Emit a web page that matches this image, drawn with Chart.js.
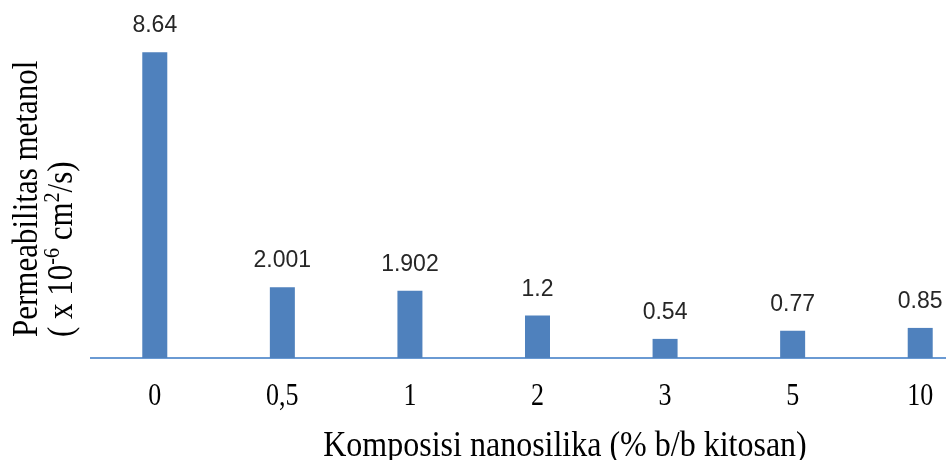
<!DOCTYPE html>
<html>
<head>
<meta charset="utf-8">
<script src="https://cdn.jsdelivr.net/npm/chart.js@4/dist/chart.umd.min.js"></script>
<style>
  html, body { margin: 0; padding: 0; background: #fff; overflow: hidden; }
  #wrap { width: 990px; height: 460px; }
</style>
</head>
<body>
<div id="wrap"><canvas id="c" width="990" height="460"></canvas></div>
<script>
// Methanol permeability of chitosan membranes vs. nanosilica loading
const categories = ['0', '0,5', '1', '2', '3', '5', '10'];
const permeability = [8.64, 2.001, 1.902, 1.2, 0.54, 0.77, 0.85];
const xTitle = 'Komposisi nanosilika (% b/b kitosan)';
const yTitleLine1 = 'Permeabilitas metanol';

const BAR = '#4F81BD';
const AXIS = '#6A9AD3';
const SERIF = '"Liberation Serif", "Times New Roman", serif';
const SANS = '"Liberation Sans", Arial, sans-serif';

// value labels above each bar
const valueLabels = {
  id: 'valueLabels',
  afterDatasetsDraw(chart) {
    const ctx = chart.ctx;
    const meta = chart.getDatasetMeta(0);
    ctx.save();
    ctx.font = '23px ' + SANS;
    ctx.fillStyle = '#262626';
    ctx.textAlign = 'center';
    ctx.textBaseline = 'alphabetic';
    meta.data.forEach((bar, i) => {
      ctx.fillText(String(chart.data.datasets[0].data[i]), bar.x, bar.y - 20);
    });
    ctx.restore();
  }
};

// category labels and axis title, set in a tall serif face
const xLabels = {
  id: 'xLabels',
  afterDraw(chart) {
    const ctx = chart.ctx;
    const xs = chart.scales.x;
    ctx.save();
    ctx.fillStyle = '#000';
    ctx.textAlign = 'center';
    ctx.textBaseline = 'alphabetic';
    ctx.font = '26px ' + SERIF;
    chart.data.labels.forEach((lab, i) => {
      ctx.save();
      ctx.translate(xs.getPixelForTick(i), 405);
      ctx.scale(1, 1.25);
      ctx.fillText(lab, 0, 0);
      ctx.restore();
    });
    ctx.font = '32px ' + SERIF;
    ctx.save();
    ctx.translate(565, 456);
    ctx.scale(1, 1.1);
    ctx.fillText(xTitle, 0, 0);
    ctx.restore();
    ctx.restore();
  }
};

// rotated two-line y-axis title with superscripts
const yTitle = {
  id: 'yTitle',
  afterDraw(chart) {
    const ctx = chart.ctx;
    ctx.save();
    ctx.fillStyle = '#000';
    ctx.textBaseline = 'alphabetic';
    ctx.textAlign = 'left';
    const big = '31px ' + SERIF;
    const small = '20px ' + SERIF;

    ctx.save();
    ctx.translate(37, 337);
    ctx.rotate(-Math.PI / 2);
    ctx.scale(1, 1.15);
    ctx.font = big;
    ctx.fillText(yTitleLine1, 0, 0);
    ctx.restore();

    const parts = [
      ['( x 10', big, 0],
      ['-6', small, -11],
      [' cm', big, 0],
      ['2', small, -11],
      ['/s)', big, 0]
    ];
    ctx.save();
    ctx.translate(72, 337);
    ctx.rotate(-Math.PI / 2);
    ctx.scale(1, 1.15);
    let x = 0;
    parts.forEach(([t, f, dy]) => {
      ctx.font = f;
      ctx.fillText(t, x, dy);
      x += ctx.measureText(t).width;
    });
    ctx.restore();
    ctx.restore();
  }
};

new Chart(document.getElementById('c'), {
  type: 'bar',
  data: {
    labels: categories,
    datasets: [{
      data: permeability,
      backgroundColor: BAR,
      borderWidth: 0,
      categoryPercentage: 1,
      barPercentage: 0.196
    }]
  },
  options: {
    responsive: false,
    animation: false,
    devicePixelRatio: 1,
    layout: { padding: { left: 91, top: 4, right: 6, bottom: 102 } },
    plugins: {
      legend: { display: false },
      tooltip: { enabled: false }
    },
    scales: {
      y: {
        display: false,
        min: 0,
        max: 10
      },
      x: {
        grid: { display: false, drawTicks: false },
        border: { display: true, color: AXIS, width: 2 },
        ticks: { display: false },
        title: { display: false }
      }
    }
  },
  plugins: [valueLabels, xLabels, yTitle]
});
</script>
</body>
</html>
